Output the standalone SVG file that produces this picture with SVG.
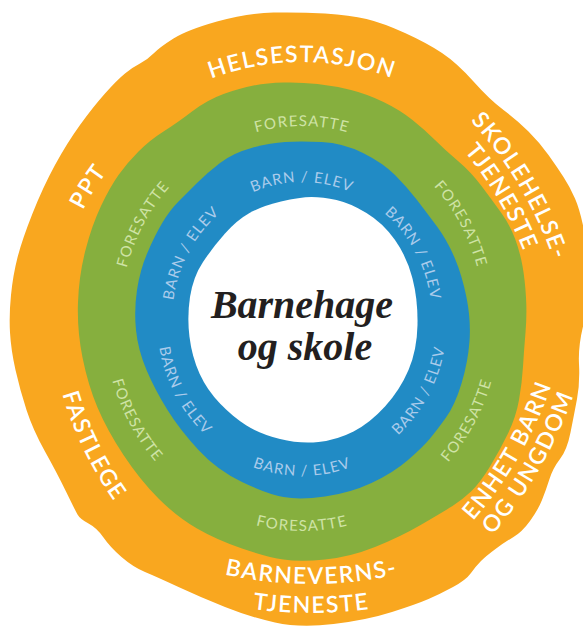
<svg xmlns="http://www.w3.org/2000/svg" width="583" height="631" viewBox="0 0 583 631">
<style>
.lab{font-family:Lato,"Open Sans","Liberation Sans",sans-serif;text-anchor:middle;}
.lo{font-size:23px;font-weight:600;fill:#ffffff;letter-spacing:1.5px;}
.lg{font-size:15px;fill:#cfe3a6;letter-spacing:1.3px;}
.lb{font-size:15px;fill:#abcbeb;letter-spacing:1px;}
.ctr{font-family:"Liberation Serif","DejaVu Serif",serif;font-style:italic;font-weight:bold;font-size:40px;fill:#231f20;text-anchor:middle;}
</style>
<defs>
<path id="pHel" d="M 136.2 122.4 A 258 258 0 0 1 467.8 122.4"/>
<path id="pPPT" d="M 62.4 269.1 A 245 245 0 0 1 151.2 126.9"/>
<path id="pSko1" d="M 373.5 43.9 A 394 394 0 0 1 574.7 382.7"/>
<path id="pSko2" d="M 361.3 65.7 A 369 369 0 0 1 549.7 383"/>
<path id="pEnh1" d="M 370 605.5 A 407 407 0 0 0 573.5 253.1"/>
<path id="pEnh2" d="M 382 626.4 A 431 431 0 0 0 597.5 253.1"/>
<path id="pFas" d="M 48 299.3 A 358 358 0 0 0 180.2 571.5"/>
<path id="pBv1" d="M 107.5 529.2 A 408 408 0 0 0 515.5 529.2"/>
<path id="pBv2" d="M 93 554.4 A 437 437 0 0 0 530 554.4"/>
<path id="pG0" d="M 197.6 161.1 A 182 194 0 0 1 406.4 161.1"/>
<path id="pG60" d="M 378.9 144.2 A 182 194 0 0 1 483.3 336.9"/>
<path id="pG300" d="M 120.7 336.9 A 182 194 0 0 1 225.1 144.2"/>
<path id="pG180" d="M 188.4 492.8 A 198 211 0 0 0 415.6 492.8"/>
<path id="pG120" d="M 385.7 511.2 A 198 211 0 0 0 499.2 301.6"/>
<path id="pG240" d="M 104.8 301.6 A 198 211 0 0 0 218.3 511.2"/>
<path id="pB0" d="M 210.1 222.4 A 130 138 0 0 1 393.9 222.4"/>
<path id="pB60" d="M 335.6 186.7 A 130 138 0 0 1 427.6 355.7"/>
<path id="pB300" d="M 176.4 355.7 A 130 138 0 0 1 268.4 186.7"/>
<path id="pB180" d="M 198.1 430.3 A 147 156 0 0 0 405.9 430.3"/>
<path id="pB120" d="M 339.5 468.8 A 145 154 0 0 0 442.1 280.1"/>
<path id="pB240" d="M 161.9 280.1 A 145 154 0 0 0 264.5 468.8"/>
</defs>

<g id="ring-orange">
<path fill="#f9a71f" d="M 273.5 12.5 Q 300 12 325 13.5 Q 350 15 366.5 19 Q 383 23 405 33 Q 427 43 442 53 Q 457 63 473.5 81.5 Q 490 100 503.5 110 Q 517 120 528.5 131.5 Q 540 143 548.5 155 Q 557 167 563.5 177 Q 570 187 575 198.5 Q 580 210 584 230 Q 588 250 589 275 Q 590 300 584 322.5 Q 578 345 579 364 Q 580 383 577 399 Q 574 415 570.5 432.5 Q 567 450 560 459 Q 553 468 549.5 479 Q 546 490 542 500 Q 538 510 530 521 Q 522 532 513.5 537 Q 505 542 495.5 549 Q 486 556 481 561 Q 476 566 471 573 Q 466 580 453 587 Q 440 594 428.5 599 Q 417 604 392 612 Q 367 620 333.5 624 Q 300 628 275 622.5 Q 250 617 225 607 Q 200 597 178.5 587 Q 157 577 145 572 Q 133 567 121.5 557 Q 110 547 103.5 537.5 Q 97 528 88.5 523.5 Q 80 519 77.5 514.5 Q 75 510 66 491.5 Q 57 473 45 451.5 Q 33 430 26.5 410 Q 20 390 15.5 370 Q 11 350 10 332.5 Q 9 315 11 295 Q 13 275 17.5 257.5 Q 22 240 32.5 213.5 Q 43 187 55 165 Q 67 143 80 125 Q 93 107 105 93.5 Q 117 80 125 73.5 Q 133 67 140 63.5 Q 147 60 153.5 53.5 Q 160 47 173.5 38.5 Q 187 30 217 21.5 Q 247 13 273.5 12.5 Z"/>
</g>
<g id="ring-green">
<path fill="#86af3e" d="M 283.5 82.5 Q 300 82 317.5 84 Q 335 86 351 90 Q 367 94 383.5 102 Q 400 110 412.5 120 Q 425 130 435 140 Q 445 150 458 161 Q 471 172 481.5 186 Q 492 200 501 212.5 Q 510 225 515 238.5 Q 520 252 522.5 266 Q 525 280 526 297.5 Q 527 315 525.5 332.5 Q 524 350 523 366.5 Q 522 383 519 400 Q 516 417 508 433.5 Q 500 450 490 466.5 Q 480 483 471 491.5 Q 462 500 452.5 506 Q 443 512 421.5 524.5 Q 400 537 375 547 Q 350 557 325 559.5 Q 300 562 283.5 559.5 Q 267 557 242 548.5 Q 217 540 197 528.5 Q 177 517 158.5 498.5 Q 140 480 123.5 455 Q 107 430 97.5 407.5 Q 88 385 82.5 357.5 Q 77 330 78 302.5 Q 79 275 85.5 250 Q 92 225 101 206 Q 110 187 118.5 175 Q 127 163 138.5 151.5 Q 150 140 163.5 131.5 Q 177 123 192 111.5 Q 207 100 223.5 94 Q 240 88 253.5 85.5 Q 267 83 283.5 82.5 Z"/>
</g>
<g id="ring-blue">
<path fill="#218bc5" d="M 285 142 Q 300 141 321.5 142 Q 343 143 363 153 Q 383 163 395 175 Q 407 187 417 200 Q 427 213 437 226.5 Q 447 240 454.5 257.5 Q 462 275 466.5 297.5 Q 471 320 469.5 341 Q 468 362 461.5 383.5 Q 455 405 446 417.5 Q 437 430 430 438.5 Q 423 447 408 460 Q 393 473 371.5 483 Q 350 493 325 496.5 Q 300 500 283.5 497 Q 267 494 242 482 Q 217 470 198.5 450 Q 180 430 167.5 410 Q 155 390 146.5 370 Q 138 350 136 330 Q 134 310 137 290 Q 140 270 147.5 252.5 Q 155 235 162.5 222.5 Q 170 210 178.5 201.5 Q 187 193 197 183 Q 207 173 220 163 Q 233 153 251.5 148 Q 270 143 285 142 Z"/>
</g>
<g id="center">
<path fill="#ffffff" d="M 281 201.5 Q 300 197 311.5 197 Q 323 197 336.5 200 Q 350 203 366.5 213 Q 383 223 395 240 Q 407 257 412.5 278.5 Q 418 300 417.5 325 Q 417 350 408.5 370 Q 400 390 385 406.5 Q 370 423 353.5 431.5 Q 337 440 318.5 442 Q 300 444 280 439 Q 260 434 246.5 425.5 Q 233 417 220 403.5 Q 207 390 199.5 373.5 Q 192 357 189.5 337 Q 187 317 190 297 Q 193 277 203 262 Q 213 247 225 233.5 Q 237 220 249.5 213 Q 262 206 281 201.5 Z"/>
<text class="ctr" x="302" y="318">Barnehage</text>
<text class="ctr" x="305" y="360">og skole</text>
</g>

<g id="label-helsestasjon"><text class="lab lo"><textPath href="#pHel" startOffset="50%">HELSESTASJON</textPath></text></g>
<g id="label-ppt"><text class="lab lo"><textPath href="#pPPT" startOffset="50%">PPT</textPath></text></g>
<g id="label-skolehelse">
<text class="lab lo"><textPath href="#pSko1" startOffset="50%">SKOLEHELSE-</textPath></text>
<text class="lab lo"><textPath href="#pSko2" startOffset="50%">TJENESTE</textPath></text>
</g>
<g id="label-enhet">
<text class="lab lo"><textPath href="#pEnh1" startOffset="50%">ENHET BARN</textPath></text>
<text class="lab lo"><textPath href="#pEnh2" startOffset="50%">OG UNGDOM</textPath></text>
</g>
<g id="label-barnevern">
<text class="lab lo"><textPath href="#pBv1" startOffset="50%">BARNEVERNS-</textPath></text>
<text class="lab lo"><textPath href="#pBv2" startOffset="50%">TJENESTE</textPath></text>
</g>
<g id="label-fastlege"><text class="lab lo"><textPath href="#pFas" startOffset="50%">FASTLEGE</textPath></text></g>

<g id="labels-foresatte">
<text class="lab lg"><textPath href="#pG0" startOffset="50%">FORESATTE</textPath></text>
<text class="lab lg"><textPath href="#pG60" startOffset="50%">FORESATTE</textPath></text>
<text class="lab lg"><textPath href="#pG120" startOffset="50%">FORESATTE</textPath></text>
<text class="lab lg"><textPath href="#pG180" startOffset="50%">FORESATTE</textPath></text>
<text class="lab lg"><textPath href="#pG240" startOffset="50%">FORESATTE</textPath></text>
<text class="lab lg"><textPath href="#pG300" startOffset="50%">FORESATTE</textPath></text>
</g>
<g id="labels-barn-elev">
<text class="lab lb"><textPath href="#pB0" startOffset="50%">BARN / ELEV</textPath></text>
<text class="lab lb"><textPath href="#pB60" startOffset="50%">BARN / ELEV</textPath></text>
<text class="lab lb"><textPath href="#pB120" startOffset="50%">BARN / ELEV</textPath></text>
<text class="lab lb"><textPath href="#pB180" startOffset="50%">BARN / ELEV</textPath></text>
<text class="lab lb"><textPath href="#pB240" startOffset="50%">BARN / ELEV</textPath></text>
<text class="lab lb"><textPath href="#pB300" startOffset="50%">BARN / ELEV</textPath></text>
</g>
</svg>
